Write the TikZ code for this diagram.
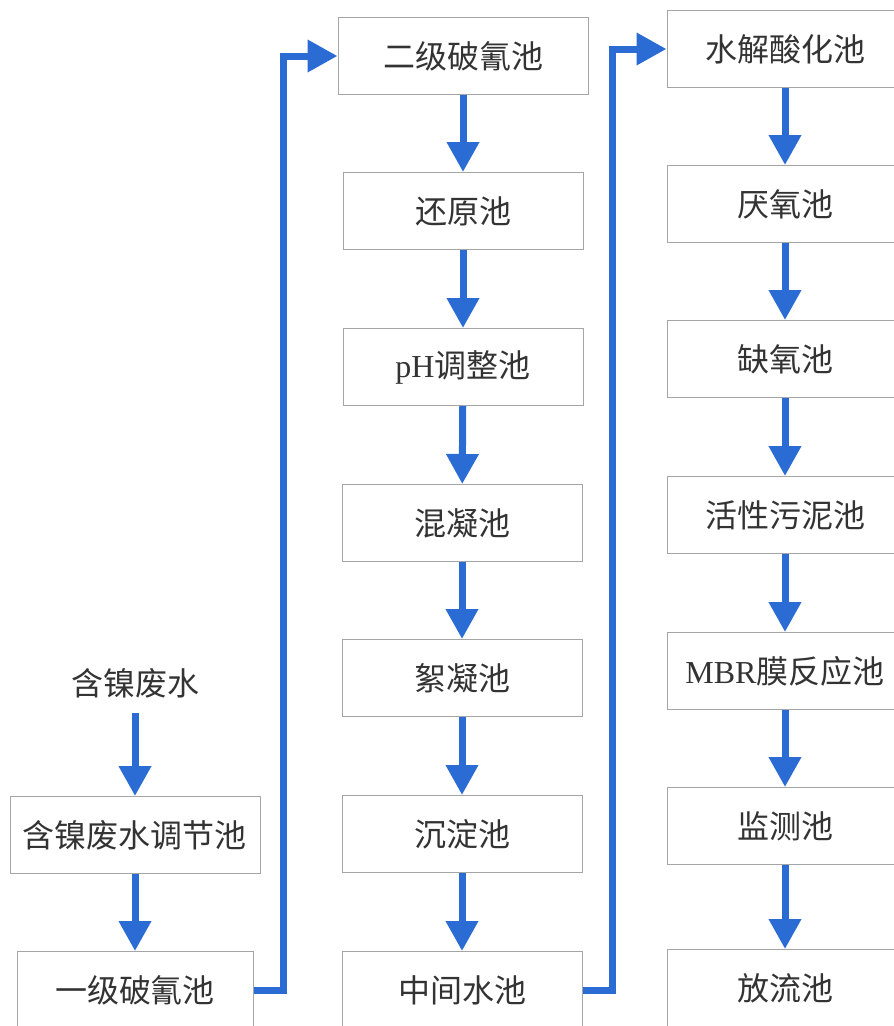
\documentclass[tikz,border=0pt]{standalone}
\usepackage{fontspec}
\setmainfont{Liberation Serif}
\newfontfamily\cjk{Noto Sans CJK SC}
\usetikzlibrary{arrows.meta}
\definecolor{flowblue}{RGB}{43,108,212}
\definecolor{boxgray}{RGB}{165,165,165}

\begin{document}
\begin{tikzpicture}[x=1pt, y=-1pt,
  pool/.style={draw=boxgray, line width=1pt, minimum width=240pt, minimum height=77pt,
    inner sep=0pt, font=\fontsize{32}{38}\selectfont\cjk, text=black!80},
  flow/.style={draw=flowblue, line width=7pt, -{Triangle[length=30pt,width=31pt]}}]
\path[use as bounding box, clip] (0,0) rectangle (894,1026);
\node[font=\fontsize{32}{38}\selectfont\cjk, text=black!80] (w) at (135,683) {含镍废水};
\node[pool, minimum width=250pt] (a1) at (135,835) {含镍废水调节池};
\node[pool, minimum width=236pt] (a2) at (135,990) {一级破氰池};
\node[pool, minimum width=250pt] (b1) at (463,56) {二级破氰池};
\node[pool] (b2) at (463,211) {还原池};
\node[pool] (b3) at (463,367) {{\rmfamily pH}调整池};
\node[pool] (b4) at (462,523) {混凝池};
\node[pool] (b5) at (462,678) {絮凝池};
\node[pool] (b6) at (462,834) {沉淀池};
\node[pool] (b7) at (462,990) {中间水池};
\node[pool, minimum width=236pt] (c1) at (785,49) {水解酸化池};
\node[pool, minimum width=236pt] (c2) at (785,204) {厌氧池};
\node[pool, minimum width=236pt] (c3) at (785,359) {缺氧池};
\node[pool, minimum width=236pt] (c4) at (785,515) {活性污泥池};
\node[pool, minimum width=236pt] (c5) at (785,671) {{\rmfamily MBR}膜反应池};
\node[pool, minimum width=236pt] (c6) at (785,826) {监测池};
\node[pool, minimum width=236pt] (c7) at (785,988) {放流池};
\draw[flow] (w.south) ++(0,12) -- (a1.north);
\draw[flow] (a1) -- (a2);
\draw[flow] (a2.east) -- ++(30,0) |- (b1.west);
\draw[flow] (b1) -- (b2);
\draw[flow] (b2) -- (b3);
\draw[flow] (b3) -- (b4);
\draw[flow] (b4) -- (b5);
\draw[flow] (b5) -- (b6);
\draw[flow] (b6) -- (b7);
\draw[flow] (b7.east) -- ++(30,0) |- (c1.west);
\draw[flow] (c1) -- (c2);
\draw[flow] (c2) -- (c3);
\draw[flow] (c3) -- (c4);
\draw[flow] (c4) -- (c5);
\draw[flow] (c5) -- (c6);
\draw[flow] (c6) -- (c7);
\end{tikzpicture}
\end{document}
